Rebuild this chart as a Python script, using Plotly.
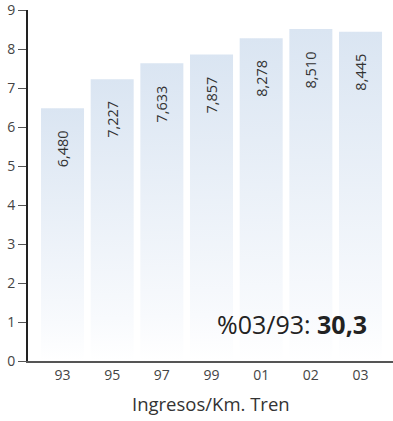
import plotly.graph_objects as go

years = ["93", "95", "97", "99", "01", "02", "03"]
values = [6.480, 7.227, 7.633, 7.857, 8.278, 8.510, 8.445]
value_labels = ["6,480", "7,227", "7,633", "7,857", "8,278", "8,510", "8,445"]
y_ticks = [0, 1, 2, 3, 4, 5, 6, 7, 8, 9]
axis_title = "Ingresos/Km. Tren"
change_label = "%03/93: "
change_value = "30,3"

FONT = "Open Sans"
BAR_W = 0.866
TOP_COLOR = "rgb(218,229,242)"

fig = go.Figure()
for i, v in enumerate(values):
    x0, x1 = i - BAR_W / 2, i + BAR_W / 2
    fig.add_trace(go.Scatter(
        x=[x0, x1, x1, x0, x0], y=[0, 0, v, v, 0],
        mode="lines", line=dict(width=0), fill="toself",
        fillgradient=dict(type="vertical", start=0, stop=v,
                          colorscale=[[0, "rgb(255,255,255)"], [0.15, "rgb(248,250,253)"], [1, TOP_COLOR]]),
        hoverinfo="skip", showlegend=False))
    fig.add_annotation(x=i, y=v, xref="x", yref="y", text=value_labels[i],
                       textangle=-90, showarrow=False, yanchor="top", xanchor="center",
                       yshift=-20, font=dict(family=FONT, size=14.5, color="#333333"))

fig.add_annotation(x=0.723, y=0.96, xref="paper", yref="y",
                   text=change_label + "<b>" + change_value + "</b>",
                   showarrow=False, xanchor="center", yanchor="middle",
                   font=dict(family=FONT, size=25, color="#222222"))

fig.add_annotation(x=0.5, y=-0.12, xref="paper", yref="paper", text=axis_title,
                   showarrow=False, xanchor="center", yanchor="middle",
                   font=dict(family=FONT, size=18.5, color="#333333"))

fig.update_layout(
    width=393, height=421,
    margin=dict(l=28, r=0, t=10, b=59.5, autoexpand=False),
    plot_bgcolor="white", paper_bgcolor="white",
    hovermode=False,
    font=dict(family=FONT, color="#444444"),
    xaxis=dict(range=[-0.695, 6.654], tickmode="array", tickvals=list(range(len(years))),
               ticktext=years, showgrid=False, zeroline=False, showline=True,
               linecolor="#555555", linewidth=1.5, ticks="", automargin=False,
               ticklabeloverflow="allow",
               tickfont=dict(family=FONT, size=14, color="#444444")),
    yaxis=dict(range=[0, 9], tickmode="array", tickvals=y_ticks, showgrid=False, zeroline=False,
               showline=True, linecolor="#222222", linewidth=2, ticks="outside", ticklen=8,
               tickcolor="#555555", tickwidth=1, automargin=False,
               ticklabeloverflow="allow",
               tickfont=dict(family=FONT, size=14, color="#444444")),
)
fig.write_html("out.html", config={"displayModeBar": False},
               post_script="document.body.style.margin='0';document.body.style.overflow='hidden';")
